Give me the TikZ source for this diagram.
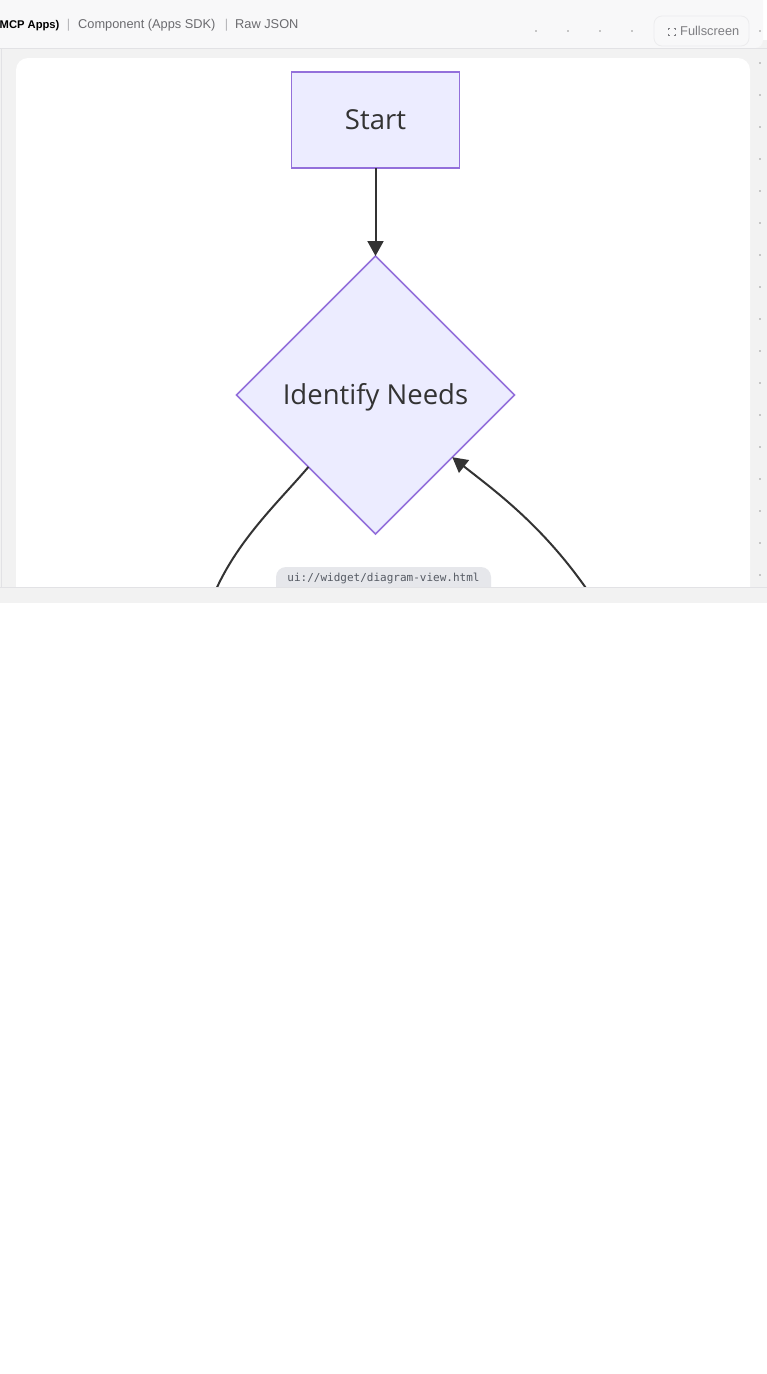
\documentclass[tikz,border=0pt]{standalone}
\usepackage{fontspec}
\setmainfont{Open Sans}
\newfontfamily\uifont{Liberation Sans}
\newfontfamily\codefont{DejaVu Sans Mono}
\usetikzlibrary{shapes.geometric,arrows.meta}
\definecolor{nodefill}{HTML}{ECECFF}
\definecolor{nodeline}{HTML}{9370DB}
\definecolor{edgecol}{HTML}{333333}
\definecolor{barbg}{HTML}{F8F8F9}
\definecolor{mainbg}{HTML}{F2F2F2}
\definecolor{rulecol}{HTML}{E2E2E5}
\definecolor{tabgray}{HTML}{6B6B6F}
\definecolor{pipegray}{HTML}{B4B4B8}
\definecolor{dotgray}{HTML}{C6C6C6}
\definecolor{pillbg}{HTML}{E6E7EB}
\definecolor{pilltext}{HTML}{555A63}
\definecolor{btnborder}{HTML}{ECECEE}
\definecolor{btntext}{HTML}{7E7E82}
\tikzset{
  flownode/.style={draw=nodeline, fill=nodefill, line width=1.6pt, text=edgecol,
    inner sep=0pt, outer sep=0pt, text height=22pt, text depth=3.1pt,
    font=\fontsize{27.5}{31}\selectfont},
  startbox/.style={flownode, rectangle, minimum width=168pt, minimum height=96pt},
  decisionbox/.style={flownode, diamond, aspect=1, minimum width=278pt, minimum height=278pt},
  edge/.style={draw=edgecol, line width=2pt},
  tipped/.style={edge, -{Triangle[length=15pt,width=16pt]}},
  tabtext/.style={inner sep=0pt, font=\uifont\fontsize{12.8}{14}\selectfont},
  bgdot/.style={fill=dotgray},
}
\begin{document}
\begin{tikzpicture}[x=1pt,y=-1pt]
\useasboundingbox (0,0) rectangle (767,1374);
\fill[white] (0,0) rectangle (767,1374);
% main grey area
\fill[mainbg] (0,40) rectangle (767,603);
% top bar
\fill[barbg, rounded corners=8pt] (0,-10) rectangle (763,48);
\fill[barbg] (0,-10) rectangle (40,48);
\draw[rulecol, line width=1pt] (0,48.5) -- (767,48.5);
\draw[rulecol, line width=1pt] (1,48.5) -- (1,587);
% background dots
\foreach \x in {536,568,600,632} { \fill[bgdot] (\x-1,30) rectangle (\x+1,32); }
\foreach \k in {0,...,17} { \fill[bgdot] (759,30+32*\k) rectangle (761,32+32*\k); }
% tabs
\node[tabtext, anchor=base west, text=black, font=\uifont\bfseries\fontsize{11.2}{14}\selectfont] (tabmcp) at (-0.5,28.5) {MCP Apps)};
\node[tabtext, anchor=base, text=pipegray] (pipeA) at (68.5,28.5) {|};
\node[tabtext, anchor=base west, text=tabgray] (tabcomp) at (78,28.5) {Component (Apps SDK)};
\node[tabtext, anchor=base, text=pipegray] (pipeB) at (226.5,28.5) {|};
\node[tabtext, anchor=base west, text=tabgray] (tabraw) at (235,28.5) {Raw JSON};
% fullscreen button
\draw[btnborder, fill=barbg, line width=0.8pt, rounded corners=8pt] (654,16) rectangle (749,46);
\begin{scope}[btntext, line width=0.9pt]
  \draw (668,29.5) -- (668,28) -- (669.5,28);
  \draw (673.5,28) -- (675,28) -- (675,29.5);
  \draw (668,33.5) -- (668,35) -- (669.5,35);
  \draw (673.5,35) -- (675,35) -- (675,33.5);
\end{scope}
\node[tabtext, anchor=base west, text=btntext] (fullscreen) at (680,35.5) {Fullscreen};
% card
\fill[white, rounded corners=12pt] (16,58) rectangle (750,640);
% diagram
\begin{scope}
  \clip (16,58) rectangle (750,587);
  \node[startbox] (start) at (375.5,120) {Start};
  \node[decisionbox] (needs) at (375.5,395) {Identify Needs};
  \draw[tipped] (start.south) -- (needs.north);
  \coordinate (leftfree) at (200,640);
  \coordinate (rightfree) at (618,640);
  \draw[edge] (needs.227.9) .. controls (270,512) and (215,560) .. (leftfree);
  \draw[tipped] (rightfree) .. controls (564,540) and (500,495) .. (needs.-39.3);
  \fill[pillbg, rounded corners=10pt] (276,567) rectangle (491,600);
  \node[inner sep=0pt, text=pilltext, font=\codefont\fontsize{11}{13}\selectfont, anchor=base] (pill) at (383.5,581.5) {ui://widget/diagram-view.html};
\end{scope}
% bottom strip
\fill[mainbg] (0,587) rectangle (767,603);
\draw[rulecol, line width=1pt] (0,587.5) -- (767,587.5);
\end{tikzpicture}
\end{document}
